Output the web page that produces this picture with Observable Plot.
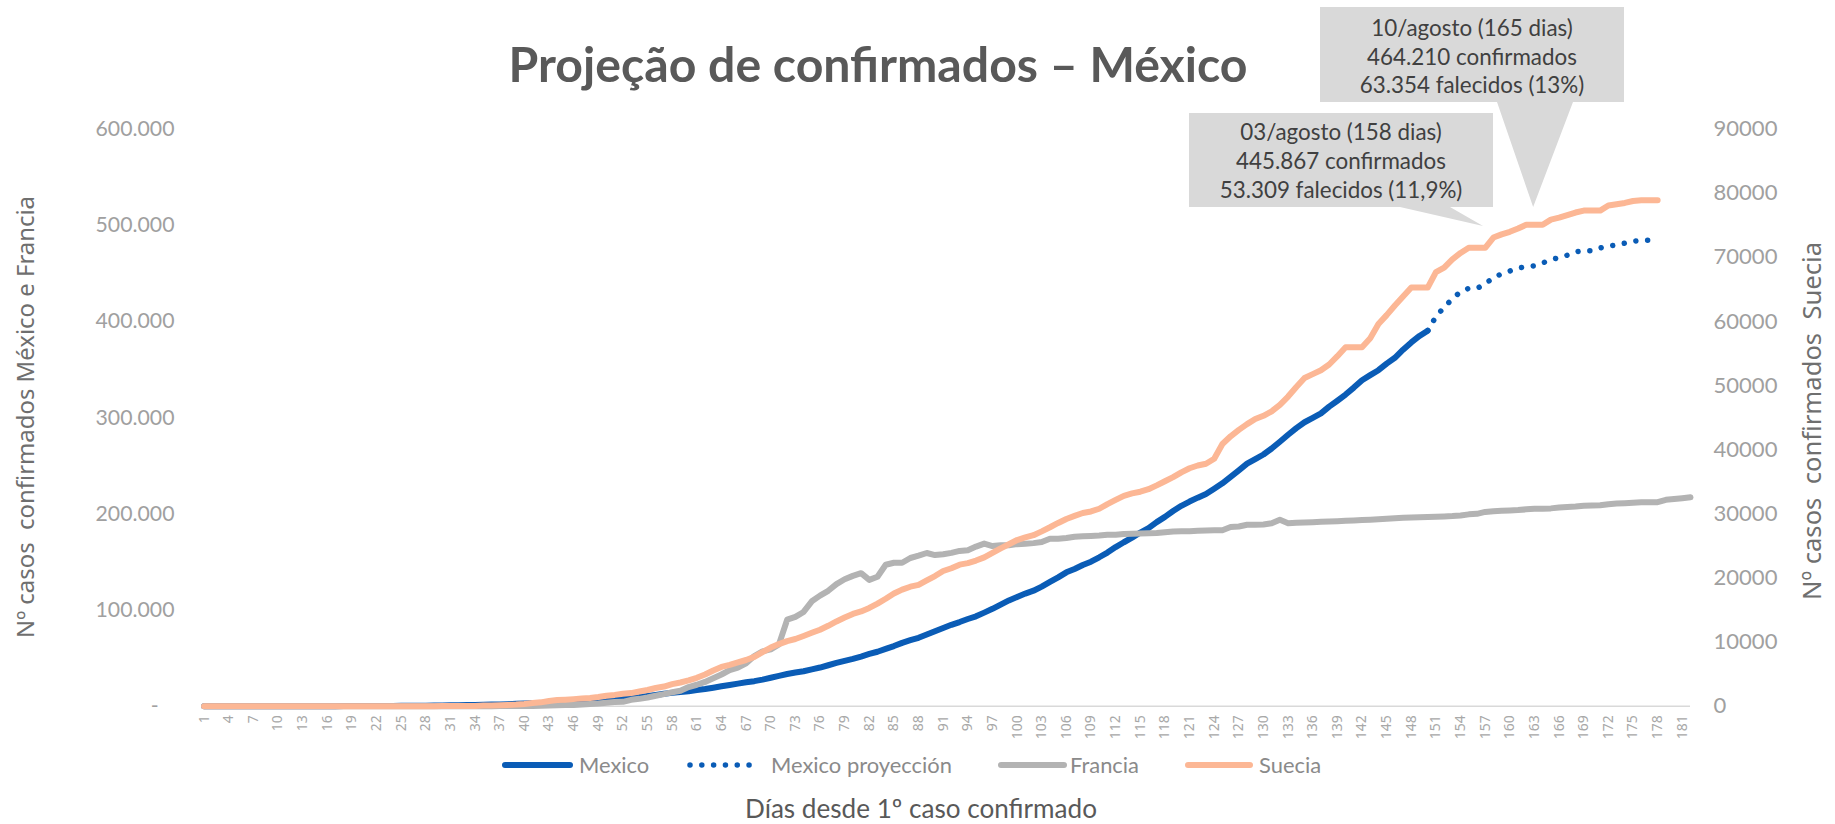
<!DOCTYPE html>
<html>
<head>
<meta charset="utf-8">
<script src="https://cdn.jsdelivr.net/npm/d3@7"></script>
<script src="https://cdn.jsdelivr.net/npm/@observablehq/plot@0.6"></script>
<style>
html, body { margin: 0; padding: 0; background: #ffffff; }
#wrap { position: relative; width: 1835px; height: 824px; overflow: hidden; background: #fff; }
#wrap > svg { position: absolute; left: 0; top: 0; }
</style>
</head>
<body>
<div id="wrap"></div>
<script>
// ---------------- DATA ----------------
// Texts
const titleText = "Projeção de confirmados – México";
const leftAxisTitle = "Nº casos  confirmados México e Francia";
const rightAxisTitle = "Nº casos  confirmados  Suecia";
const xAxisTitle = "Días desde 1º caso confirmado";
const seriesNames = ["Mexico", "Mexico proyección", "Francia", "Suecia"];

// Category axis: days since first confirmed case
const firstDay = 1;
const lastDay = 182;
const xTickLabels = d3.range(1, 182, 3);           // 1, 4, 7, ... 181
const leftTicks = [0, 100000, 200000, 300000, 400000, 500000, 600000];
const rightTicks = [0, 10000, 20000, 30000, 40000, 50000, 60000, 70000, 80000, 90000];

// Mexico confirmed (left axis), day 1..150
const mexico = [
  1,4,5,5,5,5,5,6,6,7,7,7,8,12,26,41,53,82,93,118,
  164,203,251,316,367,405,475,585,717,848,993,1094,1215,1378,1510,1688,1890,2143,2439,2785,
  3181,3441,3844,4219,4661,5014,5399,5847,6297,6875,7497,8261,8772,9501,10544,11633,12872,13842,14677,15529,
  16752,17799,19224,20739,22088,23471,24905,26025,27634,29616,31522,33460,35022,36327,38324,40186,42595,45032,47144,49219,
  51633,54346,56594,59567,62527,65856,68620,71105,74560,78023,81400,84627,87512,90664,93435,97326,101238,105680,110026,113619,
  117103,120102,124301,129184,133974,139196,142690,146837,150264,154863,159793,165455,170485,175202,180545,185122,191410,196847,202951,208392,
  212802,216852,220657,226089,231770,238511,245251,252165,256848,261750,268008,275003,282283,289174,295268,299750,304435,311486,317635,324041,
  331298,338913,344224,349396,356255,362274,370712,378285,385036,390516
];
// Mexico projection (left axis), day 150..178
const mexicoProjStart = 150;
const mexicoProyeccion = [
  390516,405000,415000,423500,431000,434500,434500,439000,445867,449500,
  452500,455500,457000,458000,461000,464210,466500,469000,472500,473500,
  473500,476500,478500,479500,481500,483500,484500,484500,485000
];
// France confirmed (left axis), day 1..182
const francia = [
  2,3,3,3,4,5,5,
  5,6,6,6,6,6,6,6,
  11,11,11,11,11,11,11,12,12,12,12,12,12,12,12,12,12,12,
  18,38,57,100,130,191,204,285,377,653,949,1126,1209,1784,2281,2876,3661,4469,4499,
  6633,7652,9043,10871,12612,14459,16018,19856,22304,25233,29155,32964,37575,40174,44550,52128,56989,59105,64338,89953,
  92839,98010,109069,115000,120000,127000,132000,135500,138300,131361,134582,147091,149130,149149,154097,156480,159297,157125,158050,159460,161488,162220,165963,169053,166543,167299,
  167305,168518,168925,169583,170687,174191,174224,174918,176202,176782,177094,177547,178349,178184,179069,179306,179645,179927,180051,180933,181700,181951,182036,182450,182709,182847,183038,186364,186923,188625,188752,189009,
  190200,193800,190300,190800,191100,191400,191700,192000,192400,192800,193200,193600,194000,194500,195000,195500,195900,196100,196400,196700,
  197000,197300,197700,198300,199500,200000,202000,202800,203200,203600,204000,204700,205200,205400,205700,206600,207200,207600,208400,208800,
  209000,210100,210700,211100,211600,212000,212100,212200,214600,215400,216300,217300
];
// Sweden confirmed (right axis), day 1..178
const suecia = [
  1,1,1,1,1,1,1,1,1,1,1,1,1,1,1,1,1,1,1,1,1,1,1,1,1,1,
  2,7,7,12,14,15,21,35,94,101,161,203,248,355,
  500,599,814,961,1022,1103,1190,1279,1439,1639,1763,1934,2046,2286,2526,2840,3069,3447,3700,4028,
  4435,4947,5568,6131,6443,6830,7206,7693,8419,9141,9685,10151,10483,10948,11445,11927,12540,13216,13822,14385,
  14777,15322,16004,16755,17567,18177,18640,18926,19621,20302,21092,21520,22082,22317,22721,23216,23918,24623,25265,25921,
  26322,26670,27272,27909,28582,29207,29677,30143,30377,30799,31523,32172,32809,33188,33459,33843,34440,35088,35727,36476,37113,37542,37814,38589,
  40900,42100,43100,44000,44800,45300,46000,47000,48300,49800,51200,51800,52400,53300,54600,56000,56000,56000,57400,59600,
  61000,62500,63900,65300,65300,65300,67700,68400,69700,70700,71500,71500,71500,73100,73600,74000,74500,75100,75100,75100,
  75900,76200,76600,77000,77300,77300,77300,78100,78300,78500,78800,78900,78900,78900
];

// Callout annotations (text + day/value the pointer targets, in left-axis units)
const callouts = [
  {lines: ["03/agosto (158 dias)", "445.867 confirmados", "53.309 falecidos (11,9%)"], tipDay: 156.8, tipValue: 498800},
  {lines: ["10/agosto (165 dias)", "464.210 confirmados", "63.354 falecidos (13%)"], tipDay: 162.9, tipValue: 518600}
];

// Colours
const colMexico = "#0a5cb6";
const colFrancia = "#b3b3b3";
const colSuecia = "#fcb795";

// ---------------- LAYOUT ----------------
const W = 1835, H = 824;
const mL = 203.6, mR = 145, mT = 128.7, mB = H - 705.7;
const k = 600000 / 90000; // right-axis -> left-axis units

const cctx = document.createElement("canvas").getContext("2d");
function fit(text, family, weight, target) {
  cctx.font = `${weight} 100px ${family}`;
  const w = cctx.measureText(text).width;
  return 100 * target / w;
}
const CAL = "Lato, Carlito, 'Open Sans', sans-serif";
const GOTH = "'Noto Sans', 'DejaVu Sans', sans-serif";
const titleSize = fit(titleText, "Lato", 700, 739);
const yTickSize = fit("100.000", "Lato", 400, 79);
const rTickSize = fit("90000", "Lato", 400, 64);
const legendSize = fit("Mexico proyección", "Lato", 400, 181);
const xTitleSize = fit(xAxisTitle, "Lato", 400, 352);
const calloutSize = fit("464.210 confirmados", "Lato", 400, 210);
const leftTitleSize = fit(leftAxisTitle.replace("  ", " "), "'Noto Sans'", 400, 436);
const rightTitleSize = fit(rightAxisTitle.replace(/  /g, " "), "'Noto Sans'", 400, 345);

const mexData = mexico.map((v, i) => ({day: i + 1, v}));
const projData = mexicoProyeccion.map((v, i) => ({day: mexicoProjStart + i, v}));
const fraData = francia.map((v, i) => ({day: i + 1, v}));
const sweData = suecia.map((v, i) => ({day: i + 1, v: v * k}));

const leftFmt = d => d === 0 ? "-\u2003" : d3.format(",")(d).replace(/,/g, ".");

const chart = Plot.plot({
  width: W, height: H,
  marginLeft: mL, marginRight: mR, marginTop: mT, marginBottom: mB,
  x: {type: "linear", domain: [firstDay, lastDay], axis: null},
  y: {domain: [0, 600000], axis: null},
  style: {background: "transparent", overflow: "visible"},
  marks: [
    Plot.ruleY([0], {stroke: "#d9d9d9", strokeWidth: 1.5}),
    Plot.axisY(leftTicks, {anchor: "left", tickSize: 0, tickPadding: 29.6, tickFormat: leftFmt,
      fontFamily: CAL, fontSize: yTickSize, color: "#a0a0a0", label: null}),
    Plot.axisY(rightTicks.map(t => t * k), {anchor: "right", tickSize: 0, tickPadding: 23,
      tickFormat: d => String(Math.round(d / k)), textAnchor: "start",
      fontFamily: CAL, fontSize: rTickSize, color: "#a0a0a0", label: null}),
    Plot.axisX(xTickLabels, {anchor: "bottom", tickSize: 0, tickPadding: 9, tickRotate: -90,
      tickFormat: d => String(d), fontFamily: GOTH, fontSize: 14, color: "#a8a8a8", label: null}),
    Plot.lineY(mexData, {x: "day", y: "v", stroke: colMexico, strokeWidth: 6,
      strokeLinecap: "round", strokeLinejoin: "round"}),
    Plot.lineY(projData, {x: "day", y: "v", stroke: colMexico, strokeWidth: 5.5,
      strokeLinecap: "round", strokeLinejoin: "round", strokeDasharray: "0.01 11.8"}),
    Plot.lineY(fraData, {x: "day", y: "v", stroke: colFrancia, strokeWidth: 6,
      strokeLinecap: "round", strokeLinejoin: "round"}),
    Plot.lineY(sweData, {x: "day", y: "v", stroke: colSuecia, strokeWidth: 6,
      strokeLinecap: "round", strokeLinejoin: "round"})
  ]
});
document.getElementById("wrap").appendChild(chart);

const sx = chart.scale("x"), sy = chart.scale("y");

// ---------------- OVERLAY (titles, legend, callouts) ----------------
const ov = d3.select("#wrap").append("svg")
  .attr("width", W).attr("height", H)
  .style("pointer-events", "none");

ov.append("text").text(titleText)
  .attr("x", 878).attr("y", 82).attr("text-anchor", "middle")
  .attr("font-family", CAL).attr("font-weight", 700).attr("font-size", titleSize)
  .attr("fill", "#595959");

ov.append("text").text(leftAxisTitle)
  .attr("transform", "translate(26,417) rotate(-90)")
  .attr("text-anchor", "middle").attr("dy", "0.35em").style("white-space", "pre")
  .attr("font-family", GOTH).attr("font-size", leftTitleSize).attr("fill", "#6f6f6f");

ov.append("text").text(rightAxisTitle)
  .attr("transform", "translate(1812,421) rotate(-90)")
  .attr("text-anchor", "middle").attr("dy", "0.35em").style("white-space", "pre")
  .attr("font-family", GOTH).attr("font-size", rightTitleSize).attr("fill", "#6f6f6f");

ov.append("text").text(xAxisTitle)
  .attr("x", 921).attr("y", 809).attr("dy", "0.35em").attr("text-anchor", "middle")
  .attr("font-family", CAL).attr("font-size", xTitleSize).attr("fill", "#595959");

// legend
const legendY = 765;
const legendItems = [
  {name: seriesNames[0], x0: 505, x1: 570, tx: 579, stroke: colMexico, dash: null, w: 6},
  {name: seriesNames[1], x0: 690, x1: 750, tx: 771, stroke: colMexico, dash: "0.01 11.8", w: 5.5},
  {name: seriesNames[2], x0: 1001, x1: 1064, tx: 1070, stroke: colFrancia, dash: null, w: 6},
  {name: seriesNames[3], x0: 1188, x1: 1250, tx: 1259, stroke: colSuecia, dash: null, w: 6}
];
for (const it of legendItems) {
  const ln = ov.append("line").attr("x1", it.x0).attr("x2", it.x1).attr("y1", legendY).attr("y2", legendY)
    .attr("stroke", it.stroke).attr("stroke-width", it.w).attr("stroke-linecap", "round");
  if (it.dash) ln.attr("stroke-dasharray", it.dash);
  ov.append("text").text(it.name).attr("x", it.tx).attr("y", legendY).attr("dy", "0.35em")
    .attr("font-family", CAL).attr("font-size", legendSize).attr("fill", "#8a8a8a");
}

// callouts
const boxes = [
  {x0: 1189, y0: 113, x1: 1493, y1: 207, bl: 1400, br: 1450, lineY: [131.7, 161.2, 190]},
  {x0: 1320, y0: 7, x1: 1624, y1: 102, bl: 1497, br: 1573, lineY: [28, 57, 85]}
];
callouts.forEach((c, i) => {
  const b = boxes[i];
  const tx = sx.apply(c.tipDay), ty = sy.apply(c.tipValue);
  const p = `M${b.x0},${b.y0}H${b.x1}V${b.y1}H${b.br}L${tx},${ty}L${b.bl},${b.y1}H${b.x0}Z`;
  ov.append("path").attr("d", p).attr("fill", "#d9d9d9");
  const cx = (b.x0 + b.x1) / 2;
  c.lines.forEach((t, j) => {
    ov.append("text").text(t).attr("x", cx).attr("y", b.lineY[j]).attr("dy", "0.35em")
      .attr("text-anchor", "middle").attr("font-family", CAL).attr("font-size", calloutSize)
      .attr("fill", "#404040");
  });
});
</script>
</body>
</html>
